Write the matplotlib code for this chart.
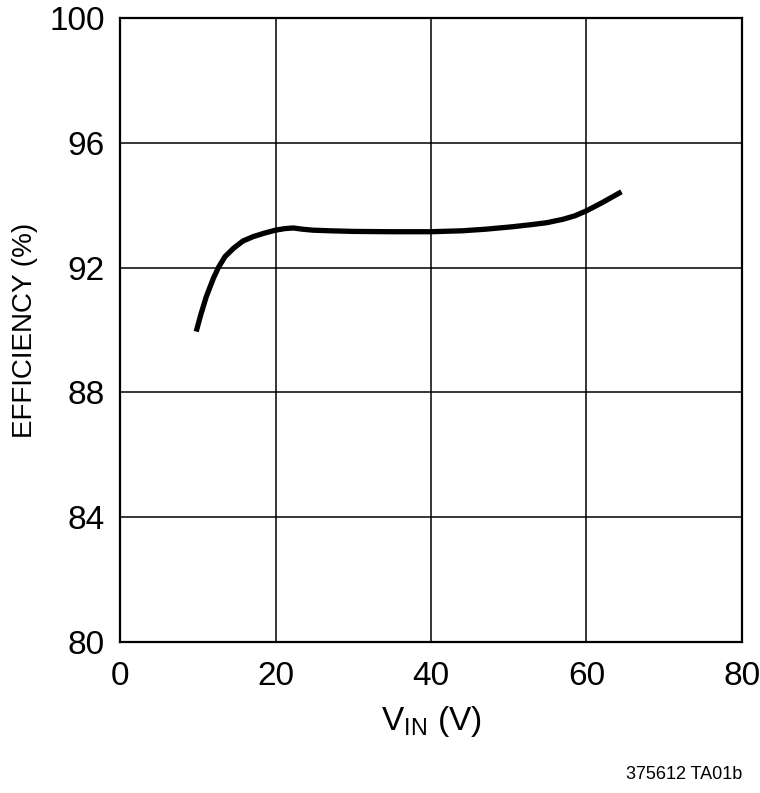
import numpy as np
import matplotlib
matplotlib.use("Agg")
import matplotlib.pyplot as plt
from matplotlib import font_manager

# pick a narrow sans if available
names = {f.name for f in font_manager.fontManager.ttflist}
narrow = "Liberation Sans Narrow" if "Liberation Sans Narrow" in names else "Liberation Sans"
plt.rcParams['font.family'] = [narrow, 'DejaVu Sans']
plt.rcParams['mathtext.fontset'] = 'custom'
plt.rcParams['mathtext.rm'] = narrow
plt.rcParams['mathtext.it'] = narrow

# Efficiency curve
vin = [9.8, 10.4, 11.1, 12.0, 12.65, 13.5, 14.6, 15.8, 17.1, 18.5, 20.0, 21.2, 22.3,
       23.5, 24.8, 27, 30, 35, 40, 44, 47, 50.5, 53, 54.9, 57, 58.5, 60, 62, 64.5]
eff = [89.95, 90.5, 91.07, 91.65, 92.0, 92.35, 92.62, 92.85, 92.99, 93.1, 93.2, 93.25, 93.27,
       93.23, 93.2, 93.18, 93.16, 93.15, 93.15, 93.18, 93.23, 93.31, 93.38, 93.44, 93.55, 93.66, 93.82, 94.08, 94.43]

xticks = [0, 20, 40, 60, 80]
yticks = [80, 84, 88, 92, 96, 100]

fig = plt.figure(figsize=(7.6, 7.93), dpi=100)
ax = fig.add_axes([0.1579, 0.1904, 0.8184, 0.7869])

ax.plot(vin, eff, color='black', lw=3.8, solid_capstyle='butt',
        solid_joinstyle='round', zorder=3)

ax.set_xlim(0, 80)
ax.set_ylim(80, 100)
ax.set_xticks(xticks)
ax.set_yticks(yticks)
ax.grid(True, color='black', lw=1.1)
ax.tick_params(length=0, labelsize=24)
ax.tick_params(axis='x', pad=14)
ax.tick_params(axis='y', pad=11)
for s in ax.spines.values():
    s.set_linewidth(1.6)

ax.set_xlabel(r'$\mathregular{V_{IN}}$ (V)', fontsize=24, labelpad=8)
ax.set_ylabel('EFFICIENCY (%)', fontsize=20, labelpad=8)

fig.text(0.976, 0.012, '375612 TA01b', ha='right', va='bottom', fontsize=13)

fig.savefig('out.png', dpi=100)
